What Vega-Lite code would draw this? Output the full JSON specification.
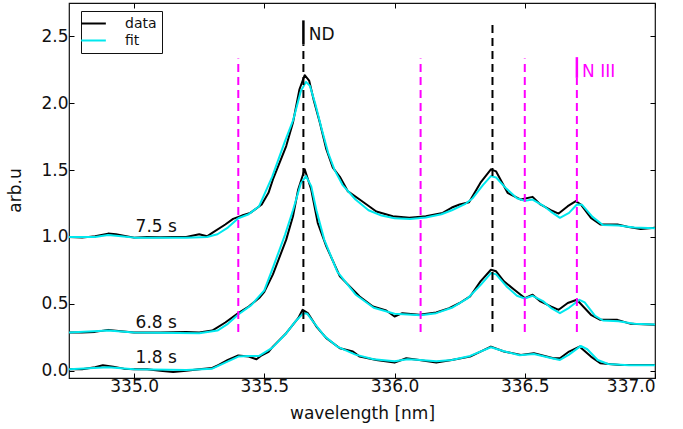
{
  "$schema": "https://vega.github.io/schema/vega-lite/v6.json",
  "width": 586,
  "height": 375,
  "autosize": {"type": "none"},
  "padding": {"left": 69, "top": 3, "right": 28, "bottom": 51},
  "background": "white",
  "config": {
    "font": "DejaVu Sans",
    "view": {"stroke": "#111", "strokeWidth": 1.2},
    "axis": {
      "grid": false,
      "domain": false,
      "tickColor": "#000",
      "tickSize": -5,
      "tickWidth": 1,
      "labelColor": "#111",
      "labelFontSize": 17,
      "titleFontSize": 17,
      "titleFontWeight": "normal",
      "titleColor": "#111"
    }
  },
  "datasets": {
    "spec": [
      {"s":"7.5 s","k":"data","x":334.75,"y":1.0},{"s":"7.5 s","k":"data","x":334.8,"y":0.995},{"s":"7.5 s","k":"data","x":334.85,"y":1.005},{"s":"7.5 s","k":"data","x":334.9,"y":1.025},{"s":"7.5 s","k":"data","x":334.93,"y":1.02},{"s":"7.5 s","k":"data","x":334.97,"y":1.005},{"s":"7.5 s","k":"data","x":335.0,"y":0.995},{"s":"7.5 s","k":"data","x":335.05,"y":1.0},{"s":"7.5 s","k":"data","x":335.1,"y":0.998},{"s":"7.5 s","k":"data","x":335.15,"y":1.0},{"s":"7.5 s","k":"data","x":335.2,"y":1.0},{"s":"7.5 s","k":"data","x":335.25,"y":1.02},{"s":"7.5 s","k":"data","x":335.28,"y":1.005},{"s":"7.5 s","k":"data","x":335.3,"y":1.03},{"s":"7.5 s","k":"data","x":335.35,"y":1.093},{"s":"7.5 s","k":"data","x":335.38,"y":1.135},{"s":"7.5 s","k":"data","x":335.414,"y":1.16},{"s":"7.5 s","k":"data","x":335.446,"y":1.18},{"s":"7.5 s","k":"data","x":335.49,"y":1.243},{"s":"7.5 s","k":"data","x":335.516,"y":1.33},{"s":"7.5 s","k":"data","x":335.533,"y":1.43},{"s":"7.5 s","k":"data","x":335.584,"y":1.68},{"s":"7.5 s","k":"data","x":335.61,"y":1.856},{"s":"7.5 s","k":"data","x":335.635,"y":2.105},{"s":"7.5 s","k":"data","x":335.655,"y":2.21},{"s":"7.5 s","k":"data","x":335.672,"y":2.17},{"s":"7.5 s","k":"data","x":335.69,"y":2.02},{"s":"7.5 s","k":"data","x":335.713,"y":1.856},{"s":"7.5 s","k":"data","x":335.738,"y":1.656},{"s":"7.5 s","k":"data","x":335.763,"y":1.518},{"s":"7.5 s","k":"data","x":335.79,"y":1.45},{"s":"7.5 s","k":"data","x":335.82,"y":1.343},{"s":"7.5 s","k":"data","x":335.866,"y":1.28},{"s":"7.5 s","k":"data","x":335.93,"y":1.19},{"s":"7.5 s","k":"data","x":335.993,"y":1.155},{"s":"7.5 s","k":"data","x":336.057,"y":1.143},{"s":"7.5 s","k":"data","x":336.09,"y":1.15},{"s":"7.5 s","k":"data","x":336.12,"y":1.155},{"s":"7.5 s","k":"data","x":336.185,"y":1.18},{"s":"7.5 s","k":"data","x":336.22,"y":1.22},{"s":"7.5 s","k":"data","x":336.25,"y":1.243},{"s":"7.5 s","k":"data","x":336.286,"y":1.26},{"s":"7.5 s","k":"data","x":336.33,"y":1.406},{"s":"7.5 s","k":"data","x":336.37,"y":1.506},{"s":"7.5 s","k":"data","x":336.39,"y":1.49},{"s":"7.5 s","k":"data","x":336.434,"y":1.33},{"s":"7.5 s","k":"data","x":336.485,"y":1.28},{"s":"7.5 s","k":"data","x":336.53,"y":1.3},{"s":"7.5 s","k":"data","x":336.56,"y":1.243},{"s":"7.5 s","k":"data","x":336.6,"y":1.2},{"s":"7.5 s","k":"data","x":336.63,"y":1.175},{"s":"7.5 s","k":"data","x":336.665,"y":1.23},{"s":"7.5 s","k":"data","x":336.696,"y":1.268},{"s":"7.5 s","k":"data","x":336.715,"y":1.243},{"s":"7.5 s","k":"data","x":336.754,"y":1.143},{"s":"7.5 s","k":"data","x":336.79,"y":1.093},{"s":"7.5 s","k":"data","x":336.856,"y":1.093},{"s":"7.5 s","k":"data","x":336.894,"y":1.076},{"s":"7.5 s","k":"data","x":336.945,"y":1.06},{"s":"7.5 s","k":"data","x":337.0,"y":1.068},

      {"s":"7.5 s","k":"fit","x":334.75,"y":1.0},{"s":"7.5 s","k":"fit","x":334.85,"y":1.0},{"s":"7.5 s","k":"fit","x":334.9,"y":1.015},{"s":"7.5 s","k":"fit","x":334.95,"y":1.005},{"s":"7.5 s","k":"fit","x":335.0,"y":0.995},{"s":"7.5 s","k":"fit","x":335.1,"y":0.995},{"s":"7.5 s","k":"fit","x":335.2,"y":0.995},{"s":"7.5 s","k":"fit","x":335.28,"y":1.0},{"s":"7.5 s","k":"fit","x":335.32,"y":1.02},{"s":"7.5 s","k":"fit","x":335.36,"y":1.07},{"s":"7.5 s","k":"fit","x":335.4,"y":1.14},{"s":"7.5 s","k":"fit","x":335.44,"y":1.17},{"s":"7.5 s","k":"fit","x":335.48,"y":1.23},{"s":"7.5 s","k":"fit","x":335.53,"y":1.45},{"s":"7.5 s","k":"fit","x":335.578,"y":1.71},{"s":"7.5 s","k":"fit","x":335.61,"y":1.87},{"s":"7.5 s","k":"fit","x":335.64,"y":2.09},{"s":"7.5 s","k":"fit","x":335.66,"y":2.16},{"s":"7.5 s","k":"fit","x":335.675,"y":2.13},{"s":"7.5 s","k":"fit","x":335.695,"y":2.0},{"s":"7.5 s","k":"fit","x":335.72,"y":1.81},{"s":"7.5 s","k":"fit","x":335.745,"y":1.63},{"s":"7.5 s","k":"fit","x":335.77,"y":1.5},{"s":"7.5 s","k":"fit","x":335.8,"y":1.39},{"s":"7.5 s","k":"fit","x":335.85,"y":1.28},{"s":"7.5 s","k":"fit","x":335.9,"y":1.2},{"s":"7.5 s","k":"fit","x":335.95,"y":1.16},{"s":"7.5 s","k":"fit","x":336.0,"y":1.14},{"s":"7.5 s","k":"fit","x":336.06,"y":1.135},{"s":"7.5 s","k":"fit","x":336.12,"y":1.145},{"s":"7.5 s","k":"fit","x":336.18,"y":1.17},{"s":"7.5 s","k":"fit","x":336.22,"y":1.2},{"s":"7.5 s","k":"fit","x":336.27,"y":1.245},{"s":"7.5 s","k":"fit","x":336.3,"y":1.29},{"s":"7.5 s","k":"fit","x":336.34,"y":1.39},{"s":"7.5 s","k":"fit","x":336.37,"y":1.455},{"s":"7.5 s","k":"fit","x":336.39,"y":1.445},{"s":"7.5 s","k":"fit","x":336.43,"y":1.36},{"s":"7.5 s","k":"fit","x":336.47,"y":1.29},{"s":"7.5 s","k":"fit","x":336.5,"y":1.27},{"s":"7.5 s","k":"fit","x":336.53,"y":1.28},{"s":"7.5 s","k":"fit","x":336.57,"y":1.235},{"s":"7.5 s","k":"fit","x":336.6,"y":1.19},{"s":"7.5 s","k":"fit","x":336.635,"y":1.143},{"s":"7.5 s","k":"fit","x":336.67,"y":1.18},{"s":"7.5 s","k":"fit","x":336.7,"y":1.243},{"s":"7.5 s","k":"fit","x":336.72,"y":1.24},{"s":"7.5 s","k":"fit","x":336.76,"y":1.15},{"s":"7.5 s","k":"fit","x":336.8,"y":1.09},{"s":"7.5 s","k":"fit","x":336.86,"y":1.085},{"s":"7.5 s","k":"fit","x":336.92,"y":1.07},{"s":"7.5 s","k":"fit","x":337.0,"y":1.065},

      {"s":"6.8 s","k":"data","x":334.75,"y":0.285},{"s":"6.8 s","k":"data","x":334.8,"y":0.285},{"s":"6.8 s","k":"data","x":334.85,"y":0.29},{"s":"6.8 s","k":"data","x":334.9,"y":0.305},{"s":"6.8 s","k":"data","x":334.95,"y":0.295},{"s":"6.8 s","k":"data","x":335.0,"y":0.285},{"s":"6.8 s","k":"data","x":335.1,"y":0.285},{"s":"6.8 s","k":"data","x":335.2,"y":0.29},{"s":"6.8 s","k":"data","x":335.25,"y":0.285},{"s":"6.8 s","k":"data","x":335.3,"y":0.3},{"s":"6.8 s","k":"data","x":335.35,"y":0.36},{"s":"6.8 s","k":"data","x":335.4,"y":0.43},{"s":"6.8 s","k":"data","x":335.44,"y":0.48},{"s":"6.8 s","k":"data","x":335.48,"y":0.543},{"s":"6.8 s","k":"data","x":335.5,"y":0.59},{"s":"6.8 s","k":"data","x":335.533,"y":0.72},{"s":"6.8 s","k":"data","x":335.584,"y":0.98},{"s":"6.8 s","k":"data","x":335.61,"y":1.155},{"s":"6.8 s","k":"data","x":335.63,"y":1.355},{"s":"6.8 s","k":"data","x":335.655,"y":1.506},{"s":"6.8 s","k":"data","x":335.68,"y":1.355},{"s":"6.8 s","k":"data","x":335.705,"y":1.106},{"s":"6.8 s","k":"data","x":335.738,"y":0.93},{"s":"6.8 s","k":"data","x":335.79,"y":0.705},{"s":"6.8 s","k":"data","x":335.866,"y":0.555},{"s":"6.8 s","k":"data","x":335.917,"y":0.48},{"s":"6.8 s","k":"data","x":335.968,"y":0.45},{"s":"6.8 s","k":"data","x":336.0,"y":0.405},{"s":"6.8 s","k":"data","x":336.03,"y":0.43},{"s":"6.8 s","k":"data","x":336.095,"y":0.418},{"s":"6.8 s","k":"data","x":336.16,"y":0.435},{"s":"6.8 s","k":"data","x":336.21,"y":0.468},{"s":"6.8 s","k":"data","x":336.25,"y":0.506},{"s":"6.8 s","k":"data","x":336.29,"y":0.555},{"s":"6.8 s","k":"data","x":336.33,"y":0.668},{"s":"6.8 s","k":"data","x":336.37,"y":0.755},{"s":"6.8 s","k":"data","x":336.39,"y":0.743},{"s":"6.8 s","k":"data","x":336.42,"y":0.668},{"s":"6.8 s","k":"data","x":336.46,"y":0.605},{"s":"6.8 s","k":"data","x":336.5,"y":0.543},{"s":"6.8 s","k":"data","x":336.53,"y":0.568},{"s":"6.8 s","k":"data","x":336.56,"y":0.518},{"s":"6.8 s","k":"data","x":336.6,"y":0.48},{"s":"6.8 s","k":"data","x":336.63,"y":0.455},{"s":"6.8 s","k":"data","x":336.665,"y":0.506},{"s":"6.8 s","k":"data","x":336.7,"y":0.53},{"s":"6.8 s","k":"data","x":336.754,"y":0.418},{"s":"6.8 s","k":"data","x":336.79,"y":0.38},{"s":"6.8 s","k":"data","x":336.856,"y":0.38},{"s":"6.8 s","k":"data","x":336.907,"y":0.35},{"s":"6.8 s","k":"data","x":337.0,"y":0.343},

      {"s":"6.8 s","k":"fit","x":334.75,"y":0.285},{"s":"6.8 s","k":"fit","x":334.9,"y":0.3},{"s":"6.8 s","k":"fit","x":335.0,"y":0.285},{"s":"6.8 s","k":"fit","x":335.25,"y":0.28},{"s":"6.8 s","k":"fit","x":335.32,"y":0.3},{"s":"6.8 s","k":"fit","x":335.36,"y":0.35},{"s":"6.8 s","k":"fit","x":335.4,"y":0.42},{"s":"6.8 s","k":"fit","x":335.45,"y":0.49},{"s":"6.8 s","k":"fit","x":335.5,"y":0.6},{"s":"6.8 s","k":"fit","x":335.533,"y":0.77},{"s":"6.8 s","k":"fit","x":335.58,"y":1.02},{"s":"6.8 s","k":"fit","x":335.61,"y":1.2},{"s":"6.8 s","k":"fit","x":335.64,"y":1.4},{"s":"6.8 s","k":"fit","x":335.66,"y":1.455},{"s":"6.8 s","k":"fit","x":335.68,"y":1.38},{"s":"6.8 s","k":"fit","x":335.7,"y":1.2},{"s":"6.8 s","k":"fit","x":335.73,"y":0.98},{"s":"6.8 s","k":"fit","x":335.78,"y":0.74},{"s":"6.8 s","k":"fit","x":335.85,"y":0.57},{"s":"6.8 s","k":"fit","x":335.92,"y":0.47},{"s":"6.8 s","k":"fit","x":336.0,"y":0.425},{"s":"6.8 s","k":"fit","x":336.1,"y":0.415},{"s":"6.8 s","k":"fit","x":336.16,"y":0.43},{"s":"6.8 s","k":"fit","x":336.22,"y":0.47},{"s":"6.8 s","k":"fit","x":336.28,"y":0.54},{"s":"6.8 s","k":"fit","x":336.33,"y":0.64},{"s":"6.8 s","k":"fit","x":336.37,"y":0.73},{"s":"6.8 s","k":"fit","x":336.39,"y":0.72},{"s":"6.8 s","k":"fit","x":336.43,"y":0.63},{"s":"6.8 s","k":"fit","x":336.47,"y":0.56},{"s":"6.8 s","k":"fit","x":336.5,"y":0.54},{"s":"6.8 s","k":"fit","x":336.53,"y":0.56},{"s":"6.8 s","k":"fit","x":336.57,"y":0.52},{"s":"6.8 s","k":"fit","x":336.6,"y":0.47},{"s":"6.8 s","k":"fit","x":336.635,"y":0.43},{"s":"6.8 s","k":"fit","x":336.67,"y":0.47},{"s":"6.8 s","k":"fit","x":336.71,"y":0.53},{"s":"6.8 s","k":"fit","x":336.73,"y":0.51},{"s":"6.8 s","k":"fit","x":336.77,"y":0.41},{"s":"6.8 s","k":"fit","x":336.8,"y":0.375},{"s":"6.8 s","k":"fit","x":336.86,"y":0.37},{"s":"6.8 s","k":"fit","x":336.92,"y":0.35},{"s":"6.8 s","k":"fit","x":337.0,"y":0.345},

      {"s":"1.8 s","k":"data","x":334.75,"y":0.01},{"s":"1.8 s","k":"data","x":334.8,"y":0.01},{"s":"1.8 s","k":"data","x":334.85,"y":0.025},{"s":"1.8 s","k":"data","x":334.88,"y":0.04},{"s":"1.8 s","k":"data","x":334.92,"y":0.03},{"s":"1.8 s","k":"data","x":334.96,"y":0.015},{"s":"1.8 s","k":"data","x":335.0,"y":0.01},{"s":"1.8 s","k":"data","x":335.05,"y":0.01},{"s":"1.8 s","k":"data","x":335.1,"y":0.0},{"s":"1.8 s","k":"data","x":335.15,"y":-0.01},{"s":"1.8 s","k":"data","x":335.2,"y":0.0},{"s":"1.8 s","k":"data","x":335.25,"y":0.01},{"s":"1.8 s","k":"data","x":335.3,"y":0.02},{"s":"1.8 s","k":"data","x":335.325,"y":0.043},{"s":"1.8 s","k":"data","x":335.36,"y":0.08},{"s":"1.8 s","k":"data","x":335.4,"y":0.113},{"s":"1.8 s","k":"data","x":335.44,"y":0.105},{"s":"1.8 s","k":"data","x":335.47,"y":0.085},{"s":"1.8 s","k":"data","x":335.49,"y":0.115},{"s":"1.8 s","k":"data","x":335.516,"y":0.14},{"s":"1.8 s","k":"data","x":335.533,"y":0.18},{"s":"1.8 s","k":"data","x":335.584,"y":0.28},{"s":"1.8 s","k":"data","x":335.63,"y":0.393},{"s":"1.8 s","k":"data","x":335.647,"y":0.455},{"s":"1.8 s","k":"data","x":335.667,"y":0.43},{"s":"1.8 s","k":"data","x":335.7,"y":0.33},{"s":"1.8 s","k":"data","x":335.738,"y":0.243},{"s":"1.8 s","k":"data","x":335.79,"y":0.168},{"s":"1.8 s","k":"data","x":335.84,"y":0.143},{"s":"1.8 s","k":"data","x":335.866,"y":0.105},{"s":"1.8 s","k":"data","x":335.93,"y":0.08},{"s":"1.8 s","k":"data","x":336.0,"y":0.06},{"s":"1.8 s","k":"data","x":336.045,"y":0.093},{"s":"1.8 s","k":"data","x":336.095,"y":0.08},{"s":"1.8 s","k":"data","x":336.16,"y":0.06},{"s":"1.8 s","k":"data","x":336.22,"y":0.08},{"s":"1.8 s","k":"data","x":336.29,"y":0.105},{"s":"1.8 s","k":"data","x":336.37,"y":0.18},{"s":"1.8 s","k":"data","x":336.42,"y":0.143},{"s":"1.8 s","k":"data","x":336.485,"y":0.118},{"s":"1.8 s","k":"data","x":336.535,"y":0.13},{"s":"1.8 s","k":"data","x":336.61,"y":0.093},{"s":"1.8 s","k":"data","x":336.635,"y":0.093},{"s":"1.8 s","k":"data","x":336.67,"y":0.143},{"s":"1.8 s","k":"data","x":336.71,"y":0.18},{"s":"1.8 s","k":"data","x":336.754,"y":0.105},{"s":"1.8 s","k":"data","x":336.79,"y":0.055},{"s":"1.8 s","k":"data","x":336.867,"y":0.043},{"s":"1.8 s","k":"data","x":337.0,"y":0.043},

      {"s":"1.8 s","k":"fit","x":334.75,"y":0.01},{"s":"1.8 s","k":"fit","x":334.9,"y":0.025},{"s":"1.8 s","k":"fit","x":335.0,"y":0.01},{"s":"1.8 s","k":"fit","x":335.2,"y":0.005},{"s":"1.8 s","k":"fit","x":335.3,"y":0.015},{"s":"1.8 s","k":"fit","x":335.35,"y":0.06},{"s":"1.8 s","k":"fit","x":335.4,"y":0.105},{"s":"1.8 s","k":"fit","x":335.44,"y":0.11},{"s":"1.8 s","k":"fit","x":335.48,"y":0.11},{"s":"1.8 s","k":"fit","x":335.53,"y":0.17},{"s":"1.8 s","k":"fit","x":335.58,"y":0.27},{"s":"1.8 s","k":"fit","x":335.62,"y":0.37},{"s":"1.8 s","k":"fit","x":335.65,"y":0.43},{"s":"1.8 s","k":"fit","x":335.665,"y":0.425},{"s":"1.8 s","k":"fit","x":335.69,"y":0.36},{"s":"1.8 s","k":"fit","x":335.73,"y":0.26},{"s":"1.8 s","k":"fit","x":335.78,"y":0.18},{"s":"1.8 s","k":"fit","x":335.85,"y":0.12},{"s":"1.8 s","k":"fit","x":335.92,"y":0.085},{"s":"1.8 s","k":"fit","x":336.0,"y":0.07},{"s":"1.8 s","k":"fit","x":336.05,"y":0.085},{"s":"1.8 s","k":"fit","x":336.1,"y":0.08},{"s":"1.8 s","k":"fit","x":336.16,"y":0.07},{"s":"1.8 s","k":"fit","x":336.22,"y":0.08},{"s":"1.8 s","k":"fit","x":336.29,"y":0.11},{"s":"1.8 s","k":"fit","x":336.37,"y":0.175},{"s":"1.8 s","k":"fit","x":336.42,"y":0.145},{"s":"1.8 s","k":"fit","x":336.48,"y":0.115},{"s":"1.8 s","k":"fit","x":336.535,"y":0.125},{"s":"1.8 s","k":"fit","x":336.6,"y":0.095},{"s":"1.8 s","k":"fit","x":336.635,"y":0.08},{"s":"1.8 s","k":"fit","x":336.67,"y":0.12},{"s":"1.8 s","k":"fit","x":336.715,"y":0.185},{"s":"1.8 s","k":"fit","x":336.74,"y":0.16},{"s":"1.8 s","k":"fit","x":336.78,"y":0.08},{"s":"1.8 s","k":"fit","x":336.82,"y":0.05},{"s":"1.8 s","k":"fit","x":336.9,"y":0.04},{"s":"1.8 s","k":"fit","x":337.0,"y":0.04}
    ]
  },
  "layer": [
    {
      "data": {"name": "spec"},
      "transform": [{"filter": "datum.k == 'data'"}],
      "mark": {"type": "line", "strokeWidth": 2, "strokeJoin": "round", "interpolate": "linear"},
      "encoding": {
        "x": {"field": "x", "type": "quantitative", "scale": {"domain": [334.75, 337.0], "nice": false, "zero": false},
              "axis": {"orient": "bottom", "values": [335, 335.5, 336, 336.5, 337], "format": ".1f", "title": "wavelength [nm]", "labelPadding": 5, "titleX": 293, "titleY": 40, "titleBaseline": "alphabetic", "titleAnchor": null, "titleAlign": "center"}},
        "y": {"field": "y", "type": "quantitative", "scale": {"domain": [-0.055, 2.75], "nice": false, "zero": false},
              "axis": {"orient": "left", "values": [0, 0.5, 1, 1.5, 2, 2.5], "format": ".1f", "title": "arb.u", "labelPadding": 6, "titleX": -49, "titleY": 187, "titleBaseline": "alphabetic", "titleAngle": -90, "titleAlign": "center", "titleAnchor": null}},
        "color": {"field": "k", "type": "nominal", "scale": {"domain": ["data", "fit"], "range": ["#000000", "#00e8ee"]},
                  "legend": {"title": null, "orient": "none", "legendX": 12, "legendY": 8, "symbolType": "M-1.9,0H1.9", "symbolSize": 169, "symbolStrokeWidth": 2, "labelFontSize": 14, "labelOffset": 24, "labelColor": "#111", "labelBaseline": "middle", "padding": 5, "strokeColor": "#111", "fillColor": "white", "rowPadding": 2}},
        "detail": {"field": "s"}
      }
    },
    {
      "data": {"name": "spec"},
      "transform": [{"filter": "datum.k == 'fit'"}],
      "mark": {"type": "line", "strokeWidth": 2, "strokeJoin": "round", "interpolate": "linear"},
      "encoding": {
        "x": {"field": "x", "type": "quantitative", "scale": {"domain": [334.75, 337.0], "nice": false, "zero": false}, "axis": null},
        "y": {"field": "y", "type": "quantitative", "scale": {"domain": [-0.055, 2.75], "nice": false, "zero": false}, "axis": null},
        "color": {"field": "k", "type": "nominal", "scale": {"domain": ["data", "fit"], "range": ["#000000", "#00e8ee"]}},
        "detail": {"field": "s"}
      }
    },
    {
      "data": {"values": [
        {"x": 335.4, "y1": 0.29, "y2": 2.335},
        {"x": 336.1, "y1": 0.29, "y2": 2.335},
        {"x": 336.5, "y1": 0.29, "y2": 2.335},
        {"x": 336.7, "y1": 0.29, "y2": 2.19}
      ]},
      "mark": {"type": "rule", "color": "#ff00ff", "strokeWidth": 2, "strokeDash": [8, 5]},
      "encoding": {
        "x": {"field": "x", "type": "quantitative", "scale": {"domain": [334.75, 337.0], "nice": false, "zero": false}, "axis": null},
        "y": {"field": "y1", "type": "quantitative", "scale": {"domain": [-0.055, 2.75], "nice": false, "zero": false}, "axis": null},
        "y2": {"field": "y2"}
      }
    },
    {
      "data": {"values": [
        {"x": 335.65, "y1": 0.29, "y2": 2.44},
        {"x": 336.376, "y1": 0.29, "y2": 2.61}
      ]},
      "mark": {"type": "rule", "color": "#000000", "strokeWidth": 2, "strokeDash": [8, 5]},
      "encoding": {
        "x": {"field": "x", "type": "quantitative", "scale": {"domain": [334.75, 337.0], "nice": false, "zero": false}, "axis": null},
        "y": {"field": "y1", "type": "quantitative", "scale": {"domain": [-0.055, 2.75], "nice": false, "zero": false}, "axis": null},
        "y2": {"field": "y2"}
      }
    },
    {
      "data": {"values": [{"x": 336.7, "y1": 2.19, "y2": 2.345}]},
      "mark": {"type": "rule", "color": "#ff00ff", "strokeWidth": 2.5},
      "encoding": {
        "x": {"field": "x", "type": "quantitative", "scale": {"domain": [334.75, 337.0], "nice": false, "zero": false}, "axis": null},
        "y": {"field": "y1", "type": "quantitative", "scale": {"domain": [-0.055, 2.75], "nice": false, "zero": false}, "axis": null},
        "y2": {"field": "y2"}
      }
    },
    {
      "data": {"values": [{"x": 335.65, "y1": 2.44, "y2": 2.62}]},
      "mark": {"type": "rule", "color": "#000000", "strokeWidth": 2.5},
      "encoding": {
        "x": {"field": "x", "type": "quantitative", "scale": {"domain": [334.75, 337.0], "nice": false, "zero": false},
              "axis": {"orient": "top", "values": [335, 335.5, 336, 336.5, 337], "labels": false, "title": null}},
        "y": {"field": "y1", "type": "quantitative", "scale": {"domain": [-0.055, 2.75], "nice": false, "zero": false},
              "axis": {"orient": "right", "values": [0, 0.5, 1, 1.5, 2, 2.5], "labels": false, "title": null}},
        "y2": {"field": "y2"}
      }
    },
    {
      "data": {"values": [
        {"x": 335.085, "y": 1.035, "t": "7.5 s"},
        {"x": 335.085, "y": 0.318, "t": "6.8 s"},
        {"x": 335.085, "y": 0.06, "t": "1.8 s"}
      ]},
      "mark": {"type": "text", "fontSize": 17, "align": "center", "baseline": "alphabetic", "color": "#111"},
      "encoding": {
        "x": {"field": "x", "type": "quantitative", "scale": {"domain": [334.75, 337.0], "nice": false, "zero": false}, "axis": null},
        "y": {"field": "y", "type": "quantitative", "scale": {"domain": [-0.055, 2.75], "nice": false, "zero": false}, "axis": null},
        "text": {"field": "t"}
      }
    },
    {
      "data": {"values": [{"x": 335.671, "y": 2.473, "t": "ND"}]},
      "mark": {"type": "text", "fontSize": 17, "align": "left", "baseline": "alphabetic", "color": "#111"},
      "encoding": {
        "x": {"field": "x", "type": "quantitative", "scale": {"domain": [334.75, 337.0], "nice": false, "zero": false}, "axis": null},
        "y": {"field": "y", "type": "quantitative", "scale": {"domain": [-0.055, 2.75], "nice": false, "zero": false}, "axis": null},
        "text": {"field": "t"}
      }
    },
    {
      "data": {"values": [{"x": 336.72, "y": 2.193, "t": "N III"}]},
      "mark": {"type": "text", "fontSize": 17, "align": "left", "baseline": "alphabetic", "color": "#ff00ff"},
      "encoding": {
        "x": {"field": "x", "type": "quantitative", "scale": {"domain": [334.75, 337.0], "nice": false, "zero": false}, "axis": null},
        "y": {"field": "y", "type": "quantitative", "scale": {"domain": [-0.055, 2.75], "nice": false, "zero": false}, "axis": null},
        "text": {"field": "t"}
      }
    }
  ],
  "resolve": {"axis": {"x": "independent", "y": "independent"}}
}
